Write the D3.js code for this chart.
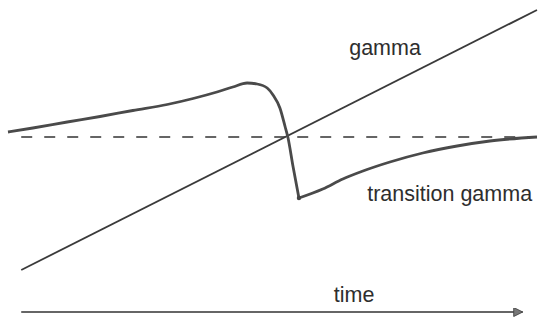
<!DOCTYPE html>
<html lang="en">
<head>
    <title>Gamma vs transition gamma</title>
    <meta charset="utf-8">
    <script src="https://d3js.org/d3.v7.min.js"></script>
    <style>
        * {
            margin: 0;
            padding: 0;
        }
        body {
            width: 539px;
            height: 320px;
            background-color: white;
            overflow: hidden;
        }
        text {
            font-family: "Liberation Sans", Arial, sans-serif;
            font-size: 21.5px;
            fill: #2e2e2e;
        }
    </style>
</head>
<body>
<div id="container"></div>
<script>
    // time runs 0..100, value 0 = the dashed reference level
    const gammaTime = [2.5, 100];
    const gammaValue = [-1.33, 1.27];

    // transition gamma, before and after the jump
    const riseTime = [0, 4.7, 11.2, 17.4, 23.6, 30.1, 35.0, 39.5, 42.5, 45.2, 47.1, 49.0, 50.1, 51.4, 52.4, 52.9, 53.9, 55.0];
    const riseValue = [0.05, 0.09, 0.15, 0.205, 0.265, 0.325, 0.385, 0.45, 0.50, 0.54, 0.53, 0.49, 0.42, 0.29, 0.10, 0.0, -0.30, -0.61];
    const recoverTime = [55.0, 59.5, 63.3, 67.1, 72.2, 78.4, 84.9, 91.1, 100];
    const recoverValue = [-0.61, -0.52, -0.42, -0.34, -0.25, -0.16, -0.09, -0.04, 0.0];

    const refTime = [2.5, 100];
    const axisTime = [2.5, 97.3];
    const axisLevel = -1.75;

    const w = 539;
    const h = 320;

    const xScale = d3.scaleLinear().domain([0, 100]).range([8, 537]);
    const yScale = d3.scaleLinear().domain([-1.35, 1.35]).range([272, 2]);

    const svg = d3.select("#container")
        .append("svg")
        .attr("width", w)
        .attr("height", h);

    svg.append("defs").append("marker")
        .attr("id", "arrow")
        .attr("viewBox", "0 0 10 10")
        .attr("refX", 10)
        .attr("refY", 5)
        .attr("markerWidth", 12)
        .attr("markerHeight", 9)
        .attr("markerUnits", "userSpaceOnUse")
        .attr("orient", "auto")
        .append("path")
        .attr("d", "M0,0 L10,5 L0,10 Z")
        .attr("fill", "#777")
        .attr("stroke", "#444")
        .attr("stroke-width", 1);

    const line = d3.line()
        .x(d => xScale(d[0]))
        .y(d => yScale(d[1]));

    const smooth = d3.line()
        .x(d => xScale(d[0]))
        .y(d => yScale(d[1]))
        .curve(d3.curveMonotoneX);

    // dashed reference level
    svg.append("path")
        .attr("d", line(refTime.map(t => [t, 0])))
        .attr("fill", "none")
        .attr("stroke", "#333")
        .attr("stroke-width", 1.5)
        .attr("stroke-dasharray", "11,12");

    // gamma
    svg.append("path")
        .attr("d", line(d3.zip(gammaTime, gammaValue)))
        .attr("fill", "none")
        .attr("stroke", "#3a3a3a")
        .attr("stroke-width", 1.8);

    // transition gamma
    [d3.zip(riseTime, riseValue), d3.zip(recoverTime, recoverValue)].forEach(pts => {
        svg.append("path")
            .attr("d", smooth(pts))
            .attr("fill", "none")
            .attr("stroke", "#4a4a4a")
            .attr("stroke-width", 2.8)
            .attr("stroke-linejoin", "round");
    });

    svg.append("circle")
        .attr("cx", xScale(recoverTime[0]))
        .attr("cy", yScale(recoverValue[0]))
        .attr("r", 2.2)
        .attr("fill", "#444");

    // time axis
    svg.append("path")
        .attr("d", line(axisTime.map(t => [t, axisLevel])))
        .attr("stroke", "#333")
        .attr("stroke-width", 1.6)
        .attr("marker-end", "url(#arrow)");

    svg.append("text").attr("x", xScale(64.5)).attr("y", yScale(0.82)).text("gamma");
    svg.append("text").attr("x", xScale(67.9)).attr("y", yScale(-0.64)).text("transition gamma");
    svg.append("text").attr("x", xScale(61.6)).attr("y", yScale(-1.65)).text("time");
</script>
</body>
</html>
